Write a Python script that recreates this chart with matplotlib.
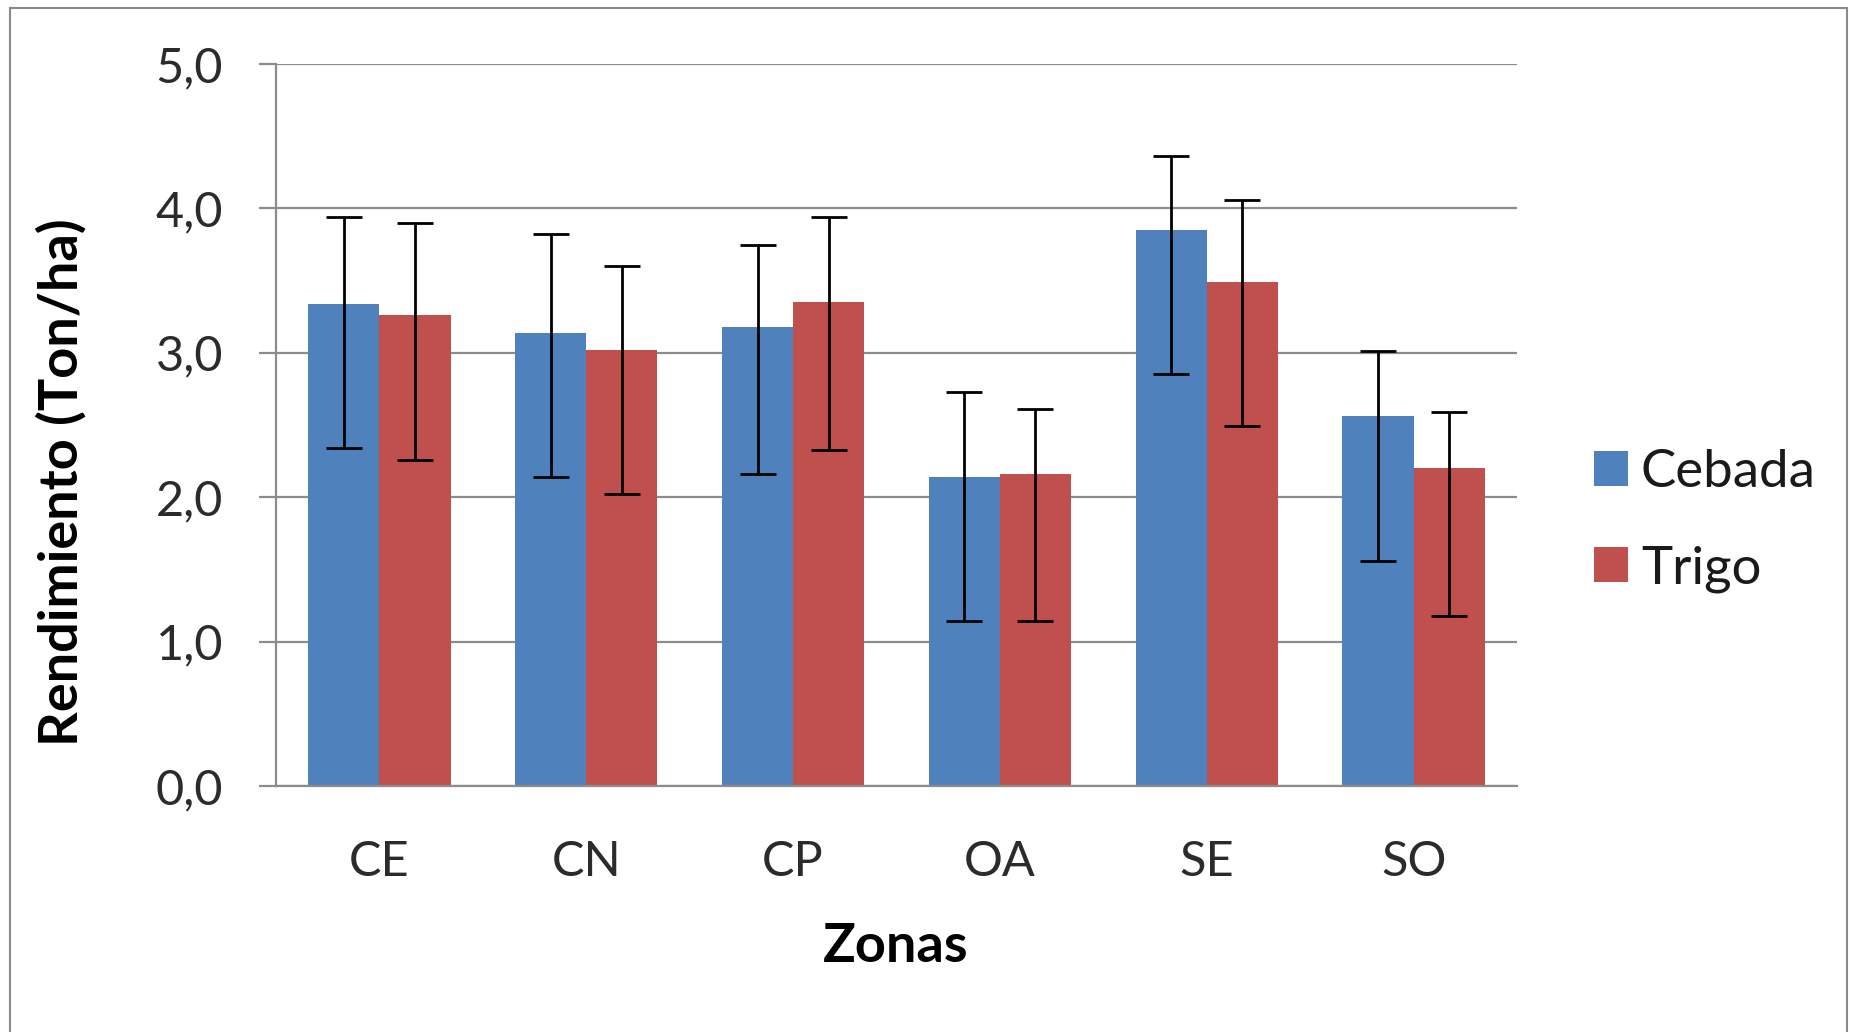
import matplotlib
matplotlib.use("Agg")
import matplotlib.pyplot as plt
import matplotlib.patches as mpatches
import numpy as np

plt.rcParams['font.family'] = ['Lato', 'DejaVu Sans']

zonas = ['CE', 'CN', 'CP', 'OA', 'SE', 'SO']
cebada = [3.34, 3.14, 3.18, 2.14, 3.85, 2.56]
trigo = [3.26, 3.02, 3.35, 2.16, 3.49, 2.20]
cebada_err_low = [1.00, 1.00, 1.02, 1.00, 1.00, 1.00]
cebada_err_up = [0.60, 0.68, 0.57, 0.59, 0.51, 0.45]
trigo_err_low = [1.00, 1.00, 1.02, 1.02, 1.00, 1.02]
trigo_err_up = [0.64, 0.58, 0.59, 0.45, 0.57, 0.39]
yticks = [0.0, 1.0, 2.0, 3.0, 4.0, 5.0]
ytick_labels = ['0,0', '1,0', '2,0', '3,0', '4,0', '5,0']

W, H = 1858, 1032
fig = plt.figure(figsize=(W / 100, H / 100), dpi=100)
ax = fig.add_axes([276 / W, 1 - 786 / H, (1517 - 276) / W, (786 - 64) / H])

x = np.arange(len(zonas))
bw = 0.344
blue = '#4F81BD'
red = '#C0504D'
grid_c = '#8C8C8C'

ax.bar(x - bw / 2, cebada, bw, color=blue, label='Cebada', zorder=2)
ax.bar(x + bw / 2, trigo, bw, color=red, label='Trigo', zorder=2)
ax.errorbar(x - bw / 2, cebada, yerr=[cebada_err_low, cebada_err_up], fmt='none',
            ecolor='black', elinewidth=2, capsize=13, capthick=2, zorder=3)
ax.errorbar(x + bw / 2, trigo, yerr=[trigo_err_low, trigo_err_up], fmt='none',
            ecolor='black', elinewidth=2, capsize=13, capthick=2, zorder=3)

ax.set_xlim(-0.5, len(zonas) - 0.5)
ax.set_ylim(0, 5.0)
ax.set_yticks(yticks)
ax.set_yticklabels(ytick_labels)
ax.set_xticks(x)
ax.set_xticklabels(zonas)
ax.yaxis.grid(True, color=grid_c, linewidth=1.6, zorder=0)
ax.set_axisbelow(True)
for s in ['top', 'right']:
    ax.spines[s].set_visible(False)
for s in ['left', 'bottom']:
    ax.spines[s].set_color(grid_c)
    ax.spines[s].set_linewidth(1.6)
ax.tick_params(axis='y', direction='out', length=12, width=1.6, color=grid_c,
               pad=26, labelsize=35, labelcolor='#2b2b2b')
ax.tick_params(axis='x', length=0, pad=39, labelsize=35, labelcolor='#2b2b2b')

fig.text(61 / W, 1 - 482 / H, 'Rendimiento (Ton/ha)', rotation=90, ha='center',
         va='center', fontsize=39, fontweight='bold', color='black')
fig.text(896 / W, 1 - 946 / H, 'Zonas', ha='center', va='center', fontsize=39,
         fontweight='bold', color='black')

leg = fig.legend(loc='center left', bbox_to_anchor=(1594 / W, 1 - 521 / H),
                 frameon=False, fontsize=38, handlelength=0.64, handleheight=0.64,
                 handletextpad=0.25, labelspacing=0.92, borderpad=0, borderaxespad=0)
for t in leg.get_texts():
    t.set_color('#1a1a1a')

border = mpatches.Rectangle((10 / W, -0.05), (1847 - 10) / W, (1 - 8 / H) + 0.05,
                            transform=fig.transFigure, fill=False,
                            edgecolor='#8a8a8a', linewidth=1.5)
fig.patches.append(border)

fig.savefig('out.png', dpi=100, facecolor='white')
